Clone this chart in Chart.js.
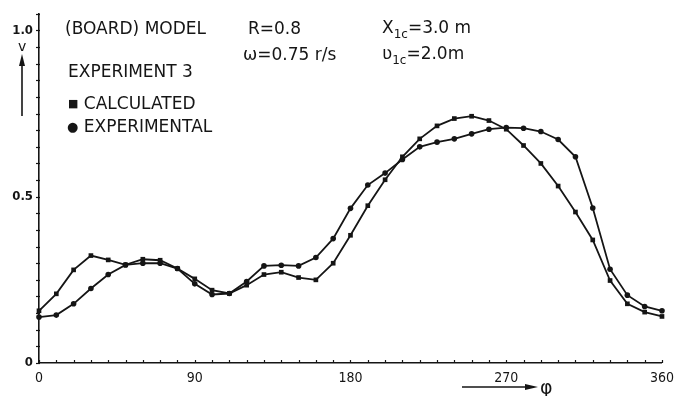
<!DOCTYPE html>
<html>
<head>
<meta charset="utf-8">
<script src="https://cdn.jsdelivr.net/npm/chart.js@4/dist/chart.umd.min.js"></script>
<style>
  html, body { margin: 0; padding: 0; background: #fff; }
  #wrap { position: relative; width: 681px; height: 396px; overflow: hidden; }
  canvas { position: absolute; left: 0; top: 0; }
  .t { position: absolute; white-space: nowrap; color: #151515;
       font-family: "DejaVu Sans", sans-serif;
       font-size: 17px; line-height: 1; transform: translateY(-50%); }
  .t sub { font-size: 12px; vertical-align: -5px; line-height: 0; }
</style>
</head>
<body>
<div id="wrap">
  <canvas id="c" width="681" height="396"></canvas>
  <div class="t" style="left:65px;top:28px;">(BOARD) MODEL</div>
  <div class="t" style="left:248px;top:28px;">R=0.8</div>
  <div class="t" style="left:243px;top:54px;">ω=0.75 r/s</div>
  <div class="t" style="left:382px;top:27px;">X<sub>1c</sub>=3.0 m</div>
  <div class="t" style="left:382px;top:53px;">ʋ<sub>1c</sub>=2.0m</div>
  <div class="t" style="left:68px;top:71px;">EXPERIMENT 3</div>
  <div class="t" style="left:68px;top:103px;"><span style="font-size:11px;vertical-align:2px;">■</span> CALCULATED</div>
  <div class="t" style="left:67px;top:126px;"><span style="font-size:13px;vertical-align:1px;">●</span> EXPERIMENTAL</div>
  <div class="t" style="left:18px;top:46px;font-size:14px;">v</div>
  <div class="t" style="left:540px;top:387px;font-size:19px;">φ</div>
</div>
<script>
// ---- data ----
const angles = [0,10,20,30,40,50,60,70,80,90,100,110,120,130,140,150,160,170,180,
                190,200,210,220,230,240,250,260,270,280,290,300,310,320,330,340,350,360];
const calculated = [0.157,0.208,0.280,0.323,0.310,0.295,0.312,0.309,0.284,0.253,0.219,0.209,0.234,
                    0.266,0.273,0.257,0.250,0.300,0.384,0.473,0.551,0.620,0.674,0.713,0.735,0.742,
                    0.729,0.703,0.654,0.600,0.532,0.454,0.370,0.248,0.178,0.153,0.140];
const experimental = [0.138,0.144,0.178,0.224,0.266,0.295,0.300,0.300,0.284,0.238,0.206,0.209,0.245,
                      0.292,0.294,0.292,0.317,0.374,0.465,0.535,0.571,0.612,0.650,0.664,0.674,0.689,
                      0.703,0.708,0.706,0.696,0.672,0.620,0.466,0.282,0.204,0.170,0.157];
const xTickLabels = [0, 90, 180, 270, 360];
const yTickLabels = [0, 0.5, 1.0];

const INK = '#151515';

const innerTicks = {
  id: 'innerTicks',
  afterDraw(chart) {
    const ctx = chart.ctx, x = chart.scales.x, y = chart.scales.y;
    ctx.save();
    ctx.strokeStyle = INK; ctx.lineWidth = 1.2;
    for (let a = 0; a <= 360; a += 10) {
      const px = Math.round(x.getPixelForValue(a)) + 0.5;
      ctx.beginPath(); ctx.moveTo(px, y.bottom); ctx.lineTo(px, y.bottom - 3); ctx.stroke();
    }
    for (let i = 0; i <= 21; i++) {
      const py = Math.round(y.getPixelForValue(i * 0.05)) + 0.5;
      ctx.beginPath(); ctx.moveTo(x.left - 3, py); ctx.lineTo(x.left + 1, py); ctx.stroke();
    }
    // v axis arrow
    ctx.lineWidth = 1.6;
    ctx.beginPath(); ctx.moveTo(22, 116); ctx.lineTo(22, 62); ctx.stroke();
    ctx.fillStyle = INK;
    ctx.beginPath(); ctx.moveTo(22, 54); ctx.lineTo(19, 66); ctx.lineTo(25, 66); ctx.closePath(); ctx.fill();
    // phi arrow
    ctx.beginPath(); ctx.moveTo(462, 387); ctx.lineTo(528, 387); ctx.stroke();
    ctx.beginPath(); ctx.moveTo(538, 387); ctx.lineTo(525, 384); ctx.lineTo(525, 390); ctx.closePath(); ctx.fill();
    ctx.restore();
  }
};

const fontFam = '"DejaVu Sans Condensed", "DejaVu Sans", sans-serif';

new Chart(document.getElementById('c'), {
  type: 'line',
  data: {
    datasets: [
      { label: 'CALCULATED', data: angles.map((a, i) => ({ x: a, y: calculated[i] })),
        borderColor: INK, backgroundColor: INK, borderWidth: 1.8,
        pointStyle: 'rect', pointRadius: 3.3, pointBorderWidth: 0, tension: 0, clip: false },
      { label: 'EXPERIMENTAL', data: angles.map((a, i) => ({ x: a, y: experimental[i] })),
        borderColor: INK, backgroundColor: INK, borderWidth: 1.8,
        pointStyle: 'circle', pointRadius: 2.8, pointBorderWidth: 0, tension: 0, clip: false }
    ]
  },
  options: {
    responsive: false, animation: false, events: [],
    layout: { padding: { top: 5, right: 18, left: 0, bottom: 0 } },
    plugins: { legend: { display: false }, tooltip: { enabled: false } },
    scales: {
      x: {
        type: 'linear', min: 0, max: 360,
        afterFit(s) { s.height = 33; },
        afterBuildTicks(s) { s.ticks = xTickLabels.map(v => ({ value: v })); },
        grid: { display: false, drawTicks: false, tickLength: 0 },
        border: { display: true, color: INK, width: 1.6 },
        ticks: { padding: 7, color: INK, maxRotation: 0, autoSkip: false,
                 font: { family: fontFam, size: 14 }, callback: v => String(v) }
      },
      y: {
        min: 0, max: 1.05,
        afterFit(s) { s.width = 39; },
        afterBuildTicks(s) { s.ticks = yTickLabels.map(v => ({ value: v })); },
        grid: { display: false, drawTicks: false, tickLength: 0 },
        border: { display: true, color: INK, width: 1.6 },
        ticks: { padding: 6, color: INK, font: { family: fontFam, size: 13, weight: 'bold' },
                 callback: v => (v === 0 ? '0' : v.toFixed(1)) }
      }
    }
  },
  plugins: [innerTicks]
});
</script>
</body>
</html>
